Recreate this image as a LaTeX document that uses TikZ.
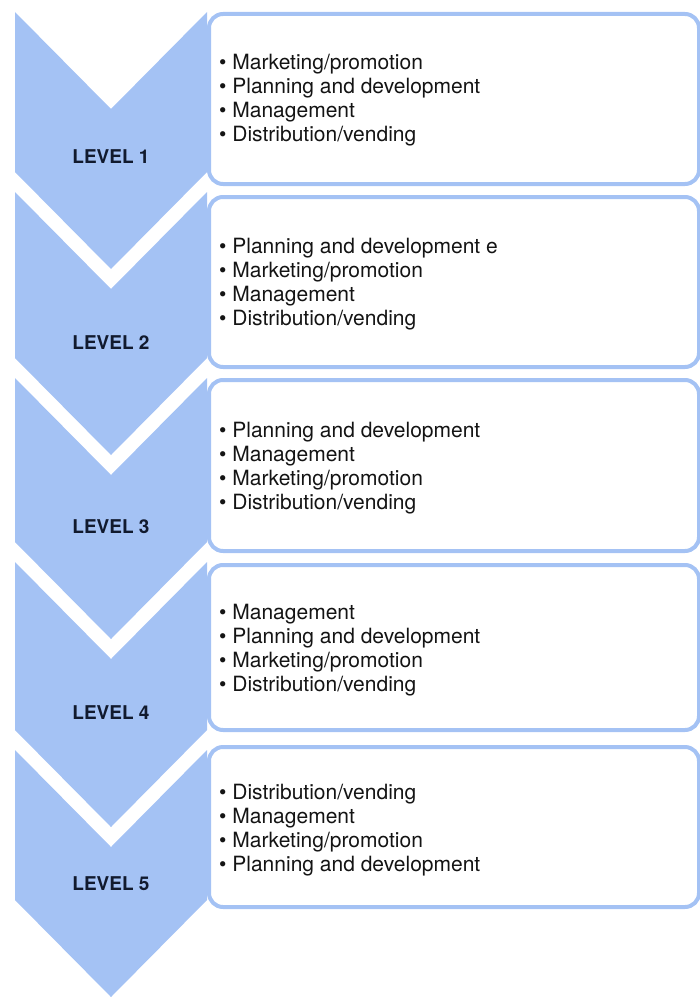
\documentclass[tikz,border=0pt]{standalone}
\usepackage{fontspec}
\setmainfont{TeX Gyre Heros}
\definecolor{levelblue}{HTML}{A4C2F4}
\definecolor{labelink}{HTML}{111A2E}
\definecolor{itemink}{HTML}{141414}
\newcommand{\chevronshape}[2]{% top of sides, bottom of sides
  (15,#1) -- (111,#1+97) -- (207,#1) -- (207,#2) -- (111,#2+97) -- (15,#2) -- cycle}
\begin{document}
\begin{tikzpicture}[x=1pt,y=-1pt,
  panel/.style={draw=levelblue, line width=4pt, rounded corners=14pt, fill=white,
    anchor=north west, minimum width=490pt, inner sep=0},
  chevron/.style={fill=levelblue},
  levellabel/.style={font=\bfseries\fontsize{19}{19}\selectfont, text=labelink, inner sep=0},
  itemlist/.style={font=\fontsize{21}{24}\selectfont, text=itemink, align=left,
    anchor=west, inner sep=0}]
\useasboundingbox (0,0) rectangle (699,998);

% text panels
\node[panel, minimum height=170pt] (box1) at (207,12) {};
\node[panel, minimum height=170pt] (box2) at (207,195) {};
\node[panel, minimum height=171pt] (box3) at (207,378) {};
\node[panel, minimum height=165pt] (box4) at (207,563) {};
\node[panel, minimum height=160pt] (box5) at (207,745) {};

% chevrons
\fill[chevron] \chevronshape{12}{172};
\fill[chevron] \chevronshape{192}{358};
\fill[chevron] \chevronshape{378}{542};
\fill[chevron] \chevronshape{562}{730};
\fill[chevron] \chevronshape{750}{900};

% level labels
\node[levellabel] (lv1) at (111,157) {LEVEL 1};
\node[levellabel] (lv2) at (111,343) {LEVEL 2};
\node[levellabel] (lv3) at (111,527) {LEVEL 3};
\node[levellabel] (lv4) at (111,713) {LEVEL 4};
\node[levellabel] (lv5) at (111,884) {LEVEL 5};

% item lists
\node[itemlist] (list1) at (219,100) {\textbullet\ Marketing/promotion\\
  \textbullet\ Planning and development\\ \textbullet\ Management\\
  \textbullet\ Distribution/vending};
\node[itemlist] (list2) at (219,284) {\textbullet\ Planning and development e\\
  \textbullet\ Marketing/promotion\\ \textbullet\ Management\\
  \textbullet\ Distribution/vending};
\node[itemlist] (list3) at (219,468) {\textbullet\ Planning and development\\
  \textbullet\ Management\\ \textbullet\ Marketing/promotion\\
  \textbullet\ Distribution/vending};
\node[itemlist] (list4) at (219,650) {\textbullet\ Management\\
  \textbullet\ Planning and development\\ \textbullet\ Marketing/promotion\\
  \textbullet\ Distribution/vending};
\node[itemlist] (list5) at (219,830) {\textbullet\ Distribution/vending\\
  \textbullet\ Management\\ \textbullet\ Marketing/promotion\\
  \textbullet\ Planning and development};
\end{tikzpicture}
\end{document}
